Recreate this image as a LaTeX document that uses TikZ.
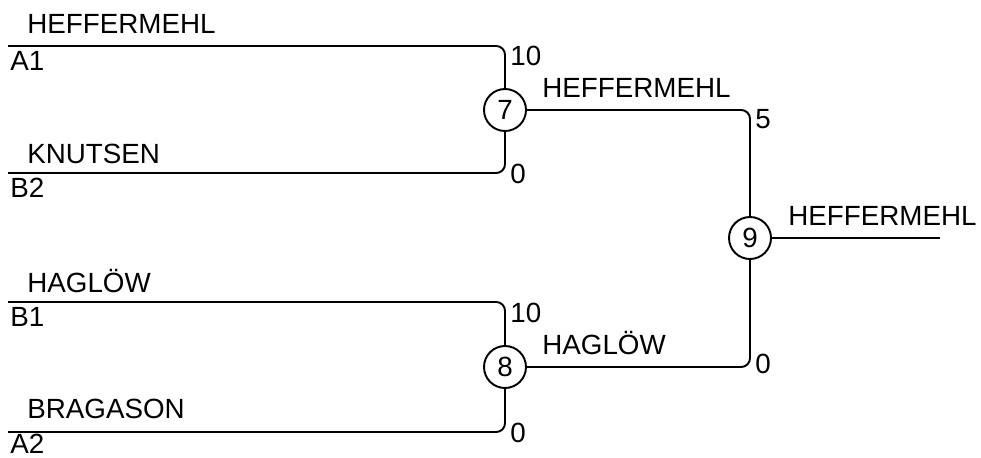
\documentclass[tikz,border=0pt]{standalone}
\usepackage{fontspec}
\setmainfont{Liberation Sans}
\usepackage{tikz}
\usetikzlibrary{positioning,calc}
\tikzstyle{mS}=[circle,minimum size = 0.84cm,inner sep = 0pt,draw,line width=1.1pt,font=\fontsize{15.8}{18}\selectfont]
\tikzstyle{tS}=[anchor=base west,inner sep = 0pt,font=\fontsize{15.8}{18}\selectfont]
\tikzstyle{eMatch}=[line width=1.1pt,rounded corners=5pt]

\begin{document}
\begin{tikzpicture}[scale=1]%[x=1 cm, y=1 cm]
                \useasboundingbox (0,0) rectangle (19.62,9.14);

                % start of the lines
                \coordinate (a1) at (0.16,8.22);
                \coordinate (b2) at (0.16,5.68);
                \coordinate (b1) at (0.16,3.10);
                \coordinate (a2) at (0.16,0.50);
                \coordinate (win) at (18.8,4.38);

                \draw (10.1,6.94) node[mS] (n7) {7};
                \draw (10.1,1.80) node[mS] (n8) {8};
                \draw (15.0,4.38) node[mS] (n9) {9};

                \draw (0.54,8.48) node[tS] (p1) {HEFFERMEHL};
                \draw (0.20,7.74) node[tS] (s1) {A1};
                \draw (0.54,5.88) node[tS] (p2) {KNUTSEN};
                \draw (0.20,5.20) node[tS] (s2) {B2};
                \draw (0.54,3.30) node[tS] (p3) {HAGLÖW};
                \draw (0.20,2.62) node[tS] (s3) {B1};
                \draw (0.54,0.78) node[tS] (p4) {BRAGASON};
                \draw (0.20,0.07) node[tS] (s4) {A2};

                \draw (10.2,7.84) node[tS] (r1) {10};
                \draw (10.2,5.48) node[tS] (r2) {0};
                \draw (10.2,2.70) node[tS] (r3) {10};
                \draw (10.2,0.30) node[tS] (r4) {0};
                \draw (15.1,6.58) node[tS] (r5) {5};
                \draw (15.1,1.68) node[tS] (r6) {0};

                \draw (10.84,7.20) node[tS] (w7) {HEFFERMEHL};
                \draw (10.84,2.06) node[tS] (w8) {HAGLÖW};
                \draw (15.76,4.64) node[tS] (w9) {HEFFERMEHL};

                \draw[eMatch] (a1) -| (n7);
                \draw[eMatch] (b2) -| (n7);
                \draw[eMatch] (b1) -| (n8);
                \draw[eMatch] (a2) -| (n8);
                \draw[eMatch] (n7) -| (n9);
                \draw[eMatch] (n8) -| (n9);
                \draw[eMatch] (n9) -- (win);

        \end{tikzpicture}
\end{document}
